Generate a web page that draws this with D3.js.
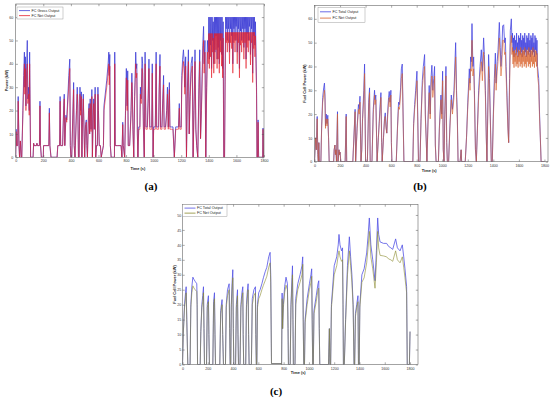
<html>
<head>
<script src="https://d3js.org/d3.v7.min.js"></script>
<style>
  body { margin: 0; background: #fff; }
  svg text { fill: #222; }
</style>
</head>
<body>
<svg id="chart" width="550" height="399"></svg>
<script>

// ---------- data ----------
// tick labels shared by all three panels
var timeTicks = [0, 200, 400, 600, 800, 1000, 1200, 1400, 1600, 1800];
var powerTicksAB = [0, 10, 20, 30, 40, 50, 60];
var powerTicksC = [0, 5, 10, 15, 20, 25, 30, 35, 40, 45, 50];

// panel (a): FC gross output / FC net output (kW) against time (s)
var aTime = [
  0,3,6,14,18,24,28,34,40,44,
  52,58,63,66,70,74,80,84,88,94,
  98,101,104,108,126,130,134,150,154,158,
  172,176,180,186,200,202,240,244,248,256,
  300,305,318,322,326,340,348,352,356,364,
  370,385,392,396,400,406,420,424,430,440,
  446,450,455,460,466,470,476,480,484,490,
  496,500,506,512,516,520,528,532,536,540,
  546,552,556,562,566,570,576,580,586,592,
  596,600,606,614,620,636,640,660,670,675,
  678,682,686,692,716,718,722,740,764,770,
  776,780,790,796,802,808,812,816,826,836,
  842,846,850,856,862,866,870,874,878,882,
  886,892,900,904,910,916,920,926,932,938,
  944,954,960,966,972,986,990,996,1000,1012,
  1018,1022,1036,1040,1046,1050,1060,1066,1072,1076,
  1086,1094,1100,1106,1114,1118,1130,1140,1150,1160,
  1180,1186,1190,1200,1204,1210,1216,1222,1226,1232,
  1238,1244,1252,1258,1264,1272,1280,1286,1292,1300,
  1306,1312,1320,1328,1334,1340,1346,1356,1362,1366,
  1372,1378,1384,1390,
  1396,1400,1404,1408,1412,1416,1420,1424,1428,1432,
  1436,1440,1444,1448,1452,1456,1460,1464,1468,1472,
  1476,1480,1484,1488,1492,1496,1500,1504,
  1508,1514,
  1518,1522,1526,1530,1534,1538,1542,1546,1550,1554,
  1558,1562,1566,1570,1574,1578,1582,1586,1590,1594,
  1598,1602,1606,1610,1614,1618,1622,1626,1630,1634,
  1638,1642,1646,1650,1654,1658,1662,1666,1670,1674,
  1678,1682,1686,1690,1694,1698,1702,1706,1710,1714,
  1718,1722,1726,1730,1734,1738,1742,
  1746,1749,1753,1757,1761,1790,1793,1797,1800
];
var aGross = [
  0,12,5,5,26,5,0,7,0,0,
  20,35,45,30,43,22,40,50,25,30,
  20,45,25,0,0,6,5,5,6,5,
  5,24,5,0,0,5,5,21,5,0,
  0,5,5,26,5,5,22,27,5,18,
  16,35,42,5,0,0,32,5,0,20,
  30,24,0,0,30,20,28,0,15,27,
  10,0,14,16,5,0,20,23,10,25,
  12,29,0,20,25,12,30,0,5,5,
  30,20,5,5,0,5,22,33,40,45,
  35,44,5,0,0,45,5,5,5,0,
  15,5,0,20,38,22,37,5,5,20,
  36,28,12,0,26,35,45,38,40,10,
  0,13,13,30,25,43,40,13,0,45,
  13,13,25,42,13,13,40,0,13,13,
  45,13,13,30,44,13,13,25,35,13,
  13,20,30,13,32,13,13,13,0,13,
  13,23,13,13,35,42,46,40,30,43,
  0,28,46,10,26,40,43,0,20,46,
  12,5,0,30,46,8,20,48,56,40,
  50,0,30,50,
  45,60,42,60,48,60,38,60,50,58,
  40,60,45,60,52,60,42,60,47,60,
  40,60,50,60,44,60,38,58,
  0,0,
  35,60,55,60,50,60,55,60,45,60,
  55,60,52,60,40,60,55,60,50,60,
  56,60,45,60,55,60,38,60,54,60,
  50,60,55,60,47,60,55,60,42,60,
  53,60,50,60,56,60,44,60,55,60,
  36,60,52,60,48,58,45,
  30,0,0,16,0,0,12.5,0,0
];
var aNet = [
  0,11,5,5,24,5,0,7,0,0,
  18,31,40,27,38,20,36,40,23,27,
  18,40,23,0,0,6,5,5,6,5,
  5,22,5,0,0,5,5,19,5,0,
  0,5,5,24,5,5,20,25,5,17,
  15,31,38,5,0,0,29,5,0,18,
  27,22,0,0,27,18,26,0,14,25,
  10,0,13,15,5,0,18,21,10,23,
  11,26,0,18,23,12,27,0,5,5,
  27,18,5,5,0,5,20,30,36,40,
  31,39,5,0,0,40,5,5,5,0,
  14,5,0,18,34,20,33,5,5,18,
  32,25,12,0,24,32,40,34,36,10,
  0,12,12,27,23,38,36,12,0,40,
  12,12,23,38,12,12,36,0,12,12,
  40,12,12,27,39,12,12,23,31,12,
  12,18,27,12,29,12,12,12,0,12,
  12,21,12,12,31,38,41,36,27,39,
  0,25,41,10,24,36,39,0,18,41,
  12,5,0,27,41,8,18,43,50,36,
  45,0,27,45,
  40,53,38,53,43,53,34,53,45,51,
  36,53,40,53,46,53,38,53,42,53,
  36,53,45,53,39,53,34,51,
  0,0,
  31,53.5,49,53.5,45,53.5,49,53.5,40,53.5,
  49,53.5,46.5,53.5,36,53.5,49,53.5,45,53.5,
  50,53.5,40,53.5,49,53.5,34,53.5,48,53.5,
  45,53.5,49,53.5,42,53.5,49,53.5,38,53.5,
  47,53.5,45,53.5,50,53.5,39.5,53.5,49,53.5,
  32,53.5,46.5,53.5,43,52,40,
  27,0,0,15,0,0,12,0,0
];

// panel (b): FC total output / FC net output (kW)
var bTime = [
  0,8,14,21,26,30,34,38,50,56,
  64,72,78,82,86,92,98,104,110,115,
  150,154,160,164,168,172,180,184,192,196,
  200,206,240,248,252,300,318,322,334,344,
  350,356,360,364,370,376,386,392,396,400,
  414,424,431,436,450,460,470,474,480,486,
  490,500,507,514,520,526,530,540,548,554,
  560,566,572,580,585,592,598,602,606,640,
  650,658,665,674,680,687,692,700,770,776,
  784,792,802,808,814,826,834,844,852,862,
  868,874,880,890,898,906,912,919,926,934,
  940,946,952,970,978,990,996,1003,1008,1014,
  1020,1029,1035,1040,1050,1060,1071,1080,1092,1105,
  1112,1118,1124,1140,1148,1152,1180,1190,1200,1212,
  1218,1222,1228,1233,1240,1246,1252,1260,1267,1276,
  1285,1296,1306,1314,1324,1330,1338,1345,1350,1356,
  1363,1370,1376,1384,1392,1400,1408,1416,1422,1430,
  1437,1447,1454,1460,1466,1473,1481,1488,1494,1500,
  1506,1514,1520,1527,1533,1541,1546,
  1550,1554,1558,1562,1566,1570,1574,1578,1582,1586,
  1590,1594,1598,1602,1606,1610,1614,1618,1622,1626,
  1630,1634,1638,1642,1646,1650,1654,1658,1662,1666,
  1670,1674,1678,1682,1686,1690,1694,1698,1702,1706,
  1710,1714,1718,1722,1726,1730,1734,1738,1742,1746,
  1755,1762,1768,1774,1800
];
var bTotal = [
  0,10,5,19,3,0,8,0,0,15,
  27,31,33,28,15,20,16,19.5,10,0,
  0,5,7,3,5,0,21,0,5,3,
  4,0,0,20,0,0,22,0,15,24,
  22,27.5,12,0,5,18,30,41,20,0,
  0,25,31,0,0,22,30,26,28,10,
  0,10,17,24,29,8,0,10,18,20.5,
  15,12,20,27,29.5,25,30,8,0,0,
  15,25,24,31,39,41,25,0,0,16,
  24,30,38,20,0,0,18,34,40,45,
  20,10,0,20,32,20,35,40.5,30,35,
  40,7,0,0,15,28,20,38,5,0,
  20,40,8,0,0,15,28,22,30,50,
  30,20,0,0,5,0,0,10,25,39,
  33,44,42,58,40,44,30,5,0,15,
  30,40,47,38,52,45,30,10,0,20,
  45,35,20,0,0,20,35,45.6,33,42,
  47,58.5,48,40,45,57,57.5,50,52,40,
  30,15,8,35,55,60,50,
  54,46,52,44,53,47,51,45,54,46,
  50,44,53,47,52,45,54,46,51,44,
  53,47,52,45,54,46,50,44,53,47,
  52,45,54,46,51,44,53,47,52,45,
  54,46,50,44,53,47,52,45,51,40,
  35,20,10,0,0
];
var bNet = [
  0,10,5,18,3,0,8,0,0,14,
  25,28,30,26,14,18,15,18,10,0,
  0,5,7,3,5,0,20,0,5,3,
  4,0,0,19,0,0,21,0,14,22,
  20,25,11,0,5,17,27,37,18,0,
  0,23,29,0,0,20,28,24,26,10,
  0,10,16,22,27,8,0,10,17,19,
  14,12,18,25,27,23,28,8,0,0,
  14,23,22,28,35,37,23,0,0,15,
  22,27,34,18,0,0,17,31,36,40,
  18,10,0,18,29,18,31,36,27,31,
  36,7,0,0,14,26,18,34,5,0,
  18,36,8,0,0,14,26,20,27,44,
  27,18,0,0,5,0,0,10,23,35,
  30,39,38,51,36,39,27,5,0,14,
  27,36,42,34,46,40,27,10,0,18,
  40,31,18,0,0,18,31,41,30,38,
  42,52,43,36,40,51,51,45,46,36,
  27,14,8,31,49,53,45,
  48,41,46.5,39.5,47,42,45.5,40,48,41,
  44.5,39.5,47,42,46.5,40,48,41,45.5,39.5,
  47,42,46.5,40,48,41,44.5,39.5,47,42,
  46.5,40,48,41,45.5,39.5,47,42,46.5,40,
  48,41,44.5,39.5,47,42,46.5,40,45.5,36,
  32,18,10,0,0
];

// panel (c): FC total output / FC net output (kW)
var cTime = [
  0,6,16,24,29,34,42,60,66,74,
  82,90,100,113,116,119,140,145,153,160,
  166,170,174,190,196,205,209,213,240,246,
  253,257,261,295,302,313,318,324,340,346,
  356,369,373,377,382,386,392,398,402,406,
  420,426,435,439,443,455,462,470,477,480,
  484,500,506,512,519,523,527,545,552,565,
  577,580,584,588,593,603,614,628,640,654,
  667,682,693,698,704,780,784,788,792,798,
  808,819,830,835,838,852,858,866,870,874,
  877,890,896,912,930,945,951,955,959,965,
  970,986,1004,1016,1022,1026,1030,1035,1040,1058,
  1072,1078,1082,1086,1155,1162,1166,1172,1178,1200,
  1220,1232,1238,1246,1258,1266,1270,1273,1280,1290,
  1305,1320,1330,1340,1350,1357,1362,1368,1378,1388,
  1392,1398,1403,1419,1437,1457,1468,1478,1490,1505,
  1523,1534,1544,1552,1563,1590,1615,1630,1648,1663,
  1686,1700,1721,1739,1750,1760,1773,1778,1795,1800
];
var cTotal = [
  0,10,20,24,26,15,0,0,20,26,
  29.2,28.5,27.8,27,20,0,0,11,20,23,
  26,12,0,0,20,23,10,0,0,21,
  24,10,0,0,18,21.7,10,0,0,20,
  25,27,12,0,0,20,27,31.7,12,0,
  0,20,25,10,0,0,20,24,26,10,
  0,0,20,24,27,10,0,0,22,25,
  26,10,0,0,20,24,25,27,29,31,
  32.5,36,37.5,30,0.3,0.3,0,23.9,12,20,
  26,29.2,27,12,0,0,20,29,33,15,
  0,0,22,27,30,33,36,15,0,0,
  15,22,27,30,32,15,0,0,18,23,
  27,28,12,0,0,12,0,0,20,33,
  36,40,43.5,40,38,39,20,0,0,15,
  33,42.7,36,30,20,0,0,17,20,23,
  0,0,20,30,32,37.3,43,49,40,35,
  28,38,49,43.5,41,40.5,40.5,39.5,39,38.5,
  42,39,38,40,36,32,26,0,0,11
];
var cNet = [
  0,10,19,22,24,14,0,0,19,24,
  26.3,25.6,25,24.4,19,0,0,11,19,21,
  24,12,0,0,19,21,10,0,0,20,
  22,10,0,0,17,20,10,0,0,19,
  23,25,12,0,0,19,25,29,12,0,
  0,19,23,10,0,0,19,22,24,10,
  0,0,19,22,25,10,0,0,20,23,
  24,10,0,0,19,22,23,25,26.5,28,
  29.5,32.5,34,27.5,0.3,0.3,0,22,12,19,
  24,26.5,25,12,0,0,19,26.5,30,14,
  0,0,20,25,27.5,30,33.5,14,0,0,
  14,20,25,27.5,29.5,14,0,0,17,21,
  25,25.5,12,0,0,12,0,0,19,30,
  33,36.5,38,36,34.5,35,19,0,0,14,
  30,38,33,27.5,19,0,0,16,19,21,
  0,0,19,27.5,29,34,39,44.5,36,32,
  25.5,34,44.5,39,36.5,36.3,36,35.3,35,34.5,
  38,35,34,36,32.5,29,24,0,0,11
];

// ---------- drawing ----------
var sans = "'Liberation Sans', Arial, sans-serif";
var serif = "'Liberation Serif', 'Times New Roman', serif";

var svg = d3.select("#chart");
svg.append("rect").attr("width", 550).attr("height", 399).attr("fill", "#fff");

var panels = [
  { id: "a", left: 15.7, right: 264, top: 4, bottom: 157.3, xMax: 1800, yMax: 65.6,
    yTicks: powerTicksAB, time: aTime, s1: aGross, s2: aNet,
    c1: "#3d3dd6", c2: "#e4202c", pad: 2.4,
    names: ["FC Gross Output", "FC Net Output"], ylab: "Power (kW)", ylabX: 7.5,
    legend: { x: 17, y: 7, w: 46, h: 12 },
    xlabY: 169.5, tag: "(a)", tagX: 151, tagY: 190 },
  { id: "b", left: 314.5, right: 548, top: 5.5, bottom: 161.7, xMax: 1828, yMax: 65.6,
    yTicks: powerTicksAB, time: bTime, s1: bTotal, s2: bNet,
    c1: "#4646e0", c2: "#d8602a", pad: 2.2,
    names: ["FC Total Output", "FC Net Output"], ylab: "Fuel Cell Power (kW)", ylabX: 305.5,
    legend: { x: 318, y: 7.3, w: 47, h: 15 },
    xlabY: 172, tag: "(b)", tagX: 420, tagY: 190 },
  { id: "c", left: 182.5, right: 418, top: 204.5, bottom: 364.5, xMax: 1863, yMax: 53.5,
    yTicks: powerTicksC, time: cTime, s1: cTotal, s2: cNet,
    c1: "#5252e4", c2: "#8a8a2e", pad: 1.3,
    names: ["FC Total Output", "FC Net Output"], ylab: "Fuel Cell Power (kW)", ylabX: 176,
    legend: { x: 182.5, y: 204.5, w: 44.5, h: 12 },
    xlabY: 374, tag: "(c)", tagX: 276, tagY: 395 }
];

panels.forEach(function(p) {
  var x = d3.scaleLinear().domain([0, p.xMax]).range([p.left, p.right]);
  var y = d3.scaleLinear().domain([0, p.yMax]).range([p.bottom, p.top]);
  var g = svg.append("g");

  g.append("clipPath").attr("id", "clip-" + p.id)
    .append("rect")
    .attr("x", p.left).attr("y", p.top)
    .attr("width", p.right - p.left).attr("height", p.bottom - p.top);

  var line = d3.line()
    .x(function(d, i) { return x(p.time[i]); })
    .y(function(d) { return y(d); });

  var plot = g.append("g").attr("clip-path", "url(#clip-" + p.id + ")");
  plot.append("path").datum(p.s1)
    .attr("d", line).attr("fill", "none")
    .attr("stroke", p.c1).attr("stroke-width", 0.8);
  plot.append("path").datum(p.s2)
    .attr("d", line).attr("fill", "none")
    .attr("stroke", p.c2).attr("stroke-width", 0.75).attr("stroke-opacity", 0.8);

  // axes, ticks pointing inward like matlab
  var fmt = function(d) { return d; };
  g.append("g").attr("transform", "translate(0," + p.bottom + ")")
    .call(d3.axisBottom(x).tickValues(timeTicks).tickFormat(fmt)
      .tickSizeInner(-2.2).tickSizeOuter(0).tickPadding(2.5));
  g.append("g").attr("transform", "translate(0," + p.top + ")")
    .call(d3.axisTop(x).tickValues(timeTicks).tickFormat("")
      .tickSizeInner(-2.2).tickSizeOuter(0));
  g.append("g").attr("transform", "translate(" + p.left + ",0)")
    .call(d3.axisLeft(y).tickValues(p.yTicks).tickFormat(fmt)
      .tickSizeInner(-2.2).tickSizeOuter(0).tickPadding(p.pad));
  g.append("g").attr("transform", "translate(" + p.right + ",0)")
    .call(d3.axisRight(y).tickValues(p.yTicks).tickFormat("")
      .tickSizeInner(-2.2).tickSizeOuter(0));

  g.selectAll(".domain").remove();
  g.selectAll(".tick line").attr("stroke", "#555").attr("stroke-width", 0.5);
  g.selectAll(".tick text").attr("font-size", 3.6).style("fill", "#333")
    .style("font-family", sans);

  g.append("rect")
    .attr("x", p.left).attr("y", p.top)
    .attr("width", p.right - p.left).attr("height", p.bottom - p.top)
    .attr("fill", "none").attr("stroke", "#666").attr("stroke-width", 0.6);

  // axis labels
  g.append("text")
    .attr("x", (p.left + p.right) / 2 - 2).attr("y", p.xlabY)
    .attr("text-anchor", "middle").attr("font-size", 3.9).attr("font-weight", "bold")
    .style("font-family", sans)
    .text("Time (s)");
  g.append("text")
    .attr("transform", "translate(" + p.ylabX + "," + ((p.top + p.bottom) / 2) + ") rotate(-90)")
    .attr("text-anchor", "middle").attr("font-size", 3.9).attr("font-weight", "bold")
    .style("font-family", sans)
    .text(p.ylab);

  // legend
  var lg = g.append("g");
  lg.append("rect")
    .attr("x", p.legend.x).attr("y", p.legend.y)
    .attr("width", p.legend.w).attr("height", p.legend.h)
    .attr("fill", "#fff").attr("stroke", "#888").attr("stroke-width", 0.4);
  [p.c1, p.c2].forEach(function(col, i) {
    var ry = p.legend.y + p.legend.h * (i === 0 ? 0.3 : 0.72);
    lg.append("line")
      .attr("x1", p.legend.x + 2).attr("x2", p.legend.x + 13)
      .attr("y1", ry).attr("y2", ry)
      .attr("stroke", col).attr("stroke-width", 0.8);
    lg.append("text")
      .attr("x", p.legend.x + 14.5).attr("y", ry + 1.3)
      .attr("font-size", 3.7)
      .style("font-family", sans)
      .text(p.names[i]);
  });

  // panel tag
  svg.append("text")
    .attr("x", p.tagX).attr("y", p.tagY)
    .attr("text-anchor", "middle")
    .style("font-family", serif)
    .style("fill", "#000")
    .attr("font-weight", "bold").attr("font-size", 11)
    .text(p.tag);
});

</script>
</body>
</html>
